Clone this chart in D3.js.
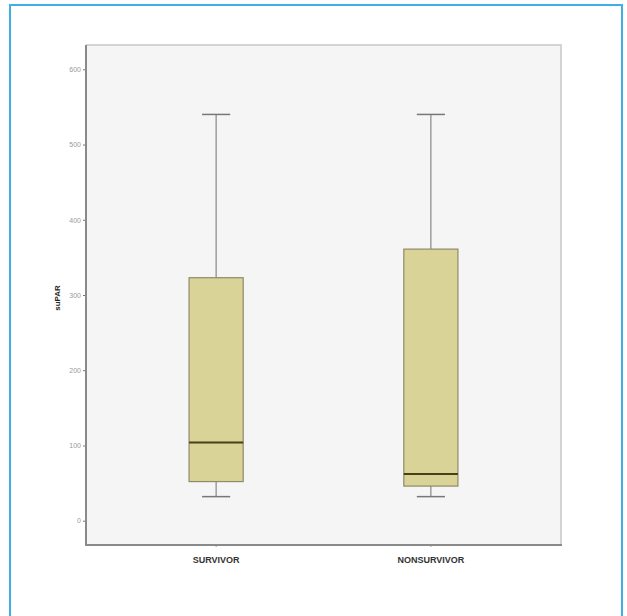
<!DOCTYPE html>
<html><head><meta charset="utf-8">
<script src="https://cdn.jsdelivr.net/npm/d3@7"></script>
<style>body{margin:0;background:#fff}svg{display:block}</style>
</head><body>
<script>
const categories = ["SURVIVOR", "NONSURVIVOR"];
const whiskerLow = [32, 32];
const q1 = [52, 46];
const median = [104, 62];
const q3 = [323, 361];
const whiskerHigh = [540, 540];
const yTicks = [0, 100, 200, 300, 400, 500, 600];

const W = 627, H = 616;
const svg = d3.select("body").append("svg").attr("width", W).attr("height", H);

// outer blue frame
svg.append("path").attr("d", `M10,620 L10,5 L622,5 L622,620`)
  .attr("fill", "none").attr("stroke", "#3fb0e6").attr("stroke-width", 2);

const plot = {left: 86, right: 561, top: 45, bottom: 545};
svg.append("rect").attr("x", plot.left).attr("y", plot.top)
  .attr("width", plot.right - plot.left).attr("height", plot.bottom - plot.top)
  .attr("fill", "#f6f5f6");
svg.append("path").attr("d", `M${plot.left},${plot.top} L${plot.right},${plot.top} L${plot.right},${plot.bottom}`)
  .attr("fill", "none").attr("stroke", "#c8c8c8").attr("stroke-width", 1.5);

const y = d3.scaleLinear().domain([0, 600]).range([520.7, 69.3]);
const x = d3.scaleBand().domain(categories).range([plot.left, plot.right]).paddingInner(0.748).paddingOuter(0.48);

// y axis
const yAxis = d3.axisLeft(y).tickValues(yTicks).tickSize(3).tickPadding(2).tickFormat(d3.format("d"));
const gy = svg.append("g").attr("transform", `translate(${plot.left},0)`).call(yAxis);
gy.select(".domain").remove();
gy.selectAll(".tick line").attr("stroke", "#777");
gy.selectAll(".tick text").attr("fill", "#999").attr("font-family", "Liberation Sans, Arial, sans-serif").attr("font-size", 7);
svg.append("line").attr("x1", plot.left).attr("x2", plot.left).attr("y1", plot.top).attr("y2", plot.bottom)
  .attr("stroke", "#8a8a8a").attr("stroke-width", 2);

// x axis
const xAxis = d3.axisBottom(x).tickSize(2).tickPadding(10);
const gx = svg.append("g").attr("transform", `translate(0,${plot.bottom})`).call(xAxis);
gx.select(".domain").remove();
gx.selectAll(".tick line").attr("stroke", "#999");
gx.selectAll(".tick text").attr("fill", "#333").attr("font-family", "Liberation Sans, Arial, sans-serif")
  .attr("font-size", 9).attr("font-weight", "bold");
svg.append("line").attr("x1", plot.left - 1).attr("x2", plot.right + 1).attr("y1", plot.bottom).attr("y2", plot.bottom)
  .attr("stroke", "#8a8a8a").attr("stroke-width", 2);

// y label
svg.append("text").attr("transform", `translate(60,298) rotate(-90)`)
  .attr("text-anchor", "middle").attr("font-family", "Liberation Sans, Arial, sans-serif")
  .attr("font-size", 8).attr("font-weight", "bold").attr("fill", "#222").text("suPAR");

// boxes
const data = categories.map((c, i) => ({c, lo: whiskerLow[i], q1: q1[i], med: median[i], q3: q3[i], hi: whiskerHigh[i]}));
const g = svg.append("g").selectAll("g").data(data).join("g");
const bw = x.bandwidth();
const cx = d => x(d.c) + bw / 2;
const capW = bw * 0.52;

g.append("line").attr("x1", cx).attr("x2", cx).attr("y1", d => y(d.hi)).attr("y2", d => y(d.q3))
  .attr("stroke", "#888").attr("stroke-width", 1.2);
g.append("line").attr("x1", cx).attr("x2", cx).attr("y1", d => y(d.q1)).attr("y2", d => y(d.lo))
  .attr("stroke", "#888").attr("stroke-width", 1.2);
g.append("line").attr("x1", d => cx(d) - capW / 2).attr("x2", d => cx(d) + capW / 2)
  .attr("y1", d => y(d.hi)).attr("y2", d => y(d.hi)).attr("stroke", "#777").attr("stroke-width", 1.5);
g.append("line").attr("x1", d => cx(d) - capW / 2).attr("x2", d => cx(d) + capW / 2)
  .attr("y1", d => y(d.lo)).attr("y2", d => y(d.lo)).attr("stroke", "#777").attr("stroke-width", 1.5);
g.append("rect").attr("x", d => x(d.c)).attr("width", bw)
  .attr("y", d => y(d.q3)).attr("height", d => y(d.q1) - y(d.q3))
  .attr("fill", "#d9d398").attr("stroke", "#8f8a6a").attr("stroke-width", 1.2);
g.append("line").attr("x1", d => x(d.c)).attr("x2", d => x(d.c) + bw)
  .attr("y1", d => y(d.med)).attr("y2", d => y(d.med)).attr("stroke", "#4a3f18").attr("stroke-width", 2);
</script>
</body></html>
